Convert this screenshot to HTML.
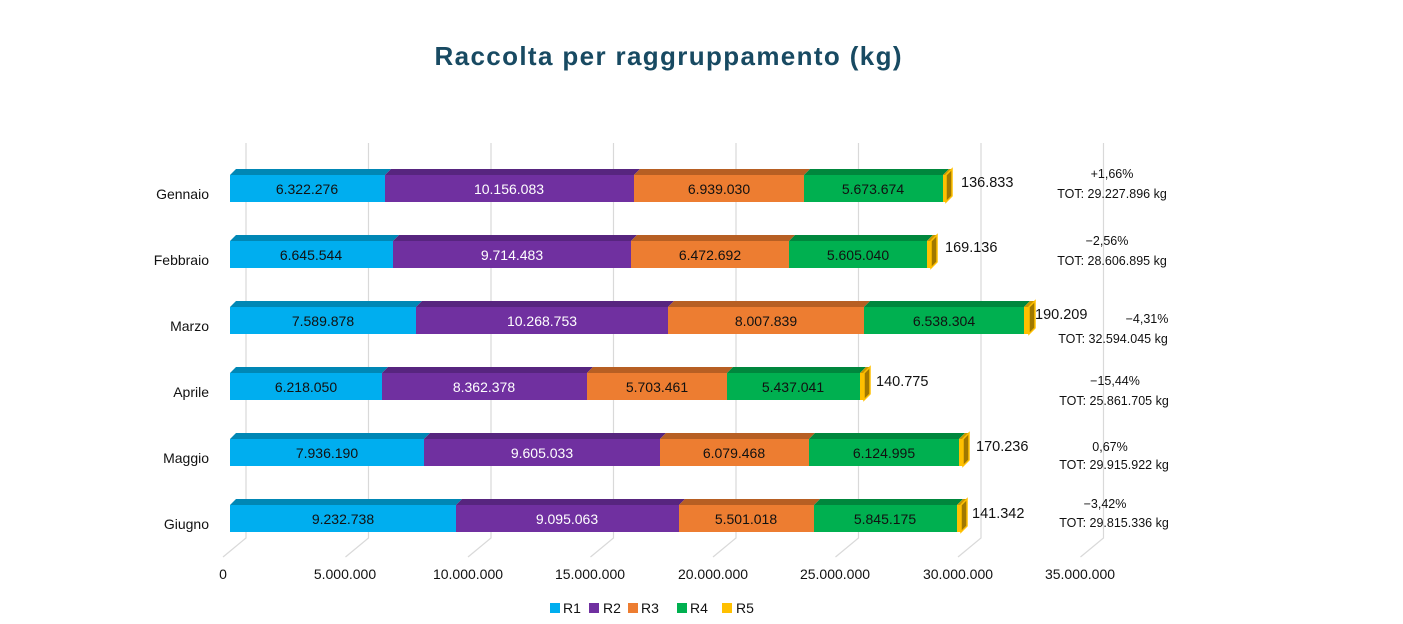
<!DOCTYPE html>
<html><head><meta charset="utf-8"><style>
body{margin:0;background:#fff}
svg{display:block;font-family:"Liberation Sans",sans-serif}
.t{font-size:14px;fill:#111;text-anchor:middle}
.w{fill:#fff}
.c{font-size:14px;fill:#111;text-anchor:end}
.v{font-size:14.5px;fill:#111}
.a{font-size:12.5px;fill:#111;text-anchor:middle}
</style></head><body>
<svg width="1403" height="624" viewBox="0 0 1403 624">
<text x="668" y="65" font-size="26" font-weight="bold" fill="#184a62" text-anchor="middle" textLength="467">Raccolta per raggruppamento (kg)</text>
<g stroke="#d9d9d9" stroke-width="1.2" fill="none">
<path d="M246 143V538L223 557"/><path d="M368.5 143V538L345.5 557"/><path d="M491 143V538L468 557"/><path d="M613.5 143V538L590.5 557"/><path d="M736 143V538L713 557"/><path d="M858.5 143V538L835.5 557"/><path d="M981 143V538L958 557"/><path d="M1103.5 143V538L1080.5 557"/>
</g>
<g font-size="14" fill="#111" text-anchor="middle">
<text x="223" y="579">0</text><text x="345" y="579">5.000.000</text><text x="468" y="579">10.000.000</text><text x="590" y="579">15.000.000</text><text x="713" y="579">20.000.000</text><text x="835" y="579">25.000.000</text><text x="958" y="579">30.000.000</text><text x="1080" y="579">35.000.000</text>
</g>
<defs>
</defs>
<!-- rows -->
<g id="r1" transform="translate(0,175)">
<path d="M230 0L236 -6H391L385 0Z" fill="#0087b5"/><path d="M385 0L391 -6H640L634 0Z" fill="#57257f"/><path d="M634 0L640 -6H810L804 0Z" fill="#b75f23"/><path d="M804 0L810 -6H949L943 0Z" fill="#00873d"/><path d="M943 0L949 -6H952L946 0Z" fill="#c99700"/>
<rect x="230" y="0" width="155" height="27" fill="#00aeef"/><rect x="385" y="0" width="249" height="27" fill="#7030a0"/><rect x="634" y="0" width="170" height="27" fill="#ed7d31"/><rect x="804" y="0" width="139" height="27" fill="#00b050"/><rect x="943" y="0" width="3" height="27" fill="#ffc000"/>
<path d="M946 0L952 -6V21L946 27Z" fill="#a07800"/><path d="M946 0L952 -6V21L946 27Z" fill="none" stroke="#ffc000" stroke-width="1.5"/>
<text class="t" x="307" y="19">6.322.276</text><text class="t w" x="509" y="19">10.156.083</text><text class="t" x="719" y="19">6.939.030</text><text class="t" x="873" y="19">5.673.674</text>
<text class="v" x="961" y="12">136.833</text>
<text class="c" x="209" y="24">Gennaio</text>
<text class="a" x="1112" y="3">+1,66%</text><text class="a" x="1112" y="23">TOT: 29.227.896 kg</text>
</g>
<g transform="translate(0,241)">
<path d="M230 0L236 -6H399L393 0Z" fill="#0087b5"/><path d="M393 0L399 -6H637L631 0Z" fill="#57257f"/><path d="M631 0L637 -6H795L789 0Z" fill="#b75f23"/><path d="M789 0L795 -6H933L927 0Z" fill="#00873d"/><path d="M927 0L933 -6H937L931 0Z" fill="#c99700"/>
<rect x="230" y="0" width="163" height="27" fill="#00aeef"/><rect x="393" y="0" width="238" height="27" fill="#7030a0"/><rect x="631" y="0" width="158" height="27" fill="#ed7d31"/><rect x="789" y="0" width="138" height="27" fill="#00b050"/><rect x="927" y="0" width="4" height="27" fill="#ffc000"/>
<path d="M931 0L937 -6V21L931 27Z" fill="#a07800" stroke="#ffc000" stroke-width="1.5"/>
<text class="t" x="311" y="19">6.645.544</text><text class="t w" x="512" y="19">9.714.483</text><text class="t" x="710" y="19">6.472.692</text><text class="t" x="858" y="19">5.605.040</text>
<text class="v" x="945" y="11">169.136</text>
<text class="c" x="209" y="24">Febbraio</text>
<text class="a" x="1107" y="4">−2,56%</text><text class="a" x="1112" y="24">TOT: 28.606.895 kg</text>
</g>
<g transform="translate(0,307)">
<path d="M230 0L236 -6H422L416 0Z" fill="#0087b5"/><path d="M416 0L422 -6H674L668 0Z" fill="#57257f"/><path d="M668 0L674 -6H870L864 0Z" fill="#b75f23"/><path d="M864 0L870 -6H1030L1024 0Z" fill="#00873d"/><path d="M1024 0L1030 -6H1035L1029 0Z" fill="#c99700"/>
<rect x="230" y="0" width="186" height="27" fill="#00aeef"/><rect x="416" y="0" width="252" height="27" fill="#7030a0"/><rect x="668" y="0" width="196" height="27" fill="#ed7d31"/><rect x="864" y="0" width="160" height="27" fill="#00b050"/><rect x="1024" y="0" width="5" height="27" fill="#ffc000"/>
<path d="M1029 0L1035 -6V21L1029 27Z" fill="#a07800" stroke="#ffc000" stroke-width="1.5"/>
<text class="t" x="323" y="19">7.589.878</text><text class="t w" x="542" y="19">10.268.753</text><text class="t" x="766" y="19">8.007.839</text><text class="t" x="944" y="19">6.538.304</text>
<text class="v" x="1035" y="12">190.209</text>
<text class="c" x="209" y="24">Marzo</text>
<text class="a" x="1147" y="16">−4,31%</text><text class="a" x="1113" y="36">TOT: 32.594.045 kg</text>
</g>
<g transform="translate(0,373)">
<path d="M230 0L236 -6H388L382 0Z" fill="#0087b5"/><path d="M382 0L388 -6H593L587 0Z" fill="#57257f"/><path d="M587 0L593 -6H733L727 0Z" fill="#b75f23"/><path d="M727 0L733 -6H866L860 0Z" fill="#00873d"/><path d="M860 0L866 -6H870L864 0Z" fill="#c99700"/>
<rect x="230" y="0" width="152" height="27" fill="#00aeef"/><rect x="382" y="0" width="205" height="27" fill="#7030a0"/><rect x="587" y="0" width="140" height="27" fill="#ed7d31"/><rect x="727" y="0" width="133" height="27" fill="#00b050"/><rect x="860" y="0" width="4" height="27" fill="#ffc000"/>
<path d="M864 0L870 -6V21L864 27Z" fill="#a07800" stroke="#ffc000" stroke-width="1.5"/>
<text class="t" x="306" y="19">6.218.050</text><text class="t w" x="484" y="19">8.362.378</text><text class="t" x="657" y="19">5.703.461</text><text class="t" x="793" y="19">5.437.041</text>
<text class="v" x="876" y="13">140.775</text>
<text class="c" x="209" y="24">Aprile</text>
<text class="a" x="1115" y="12">−15,44%</text><text class="a" x="1114" y="32">TOT: 25.861.705 kg</text>
</g>
<g transform="translate(0,439)">
<path d="M230 0L236 -6H430L424 0Z" fill="#0087b5"/><path d="M424 0L430 -6H666L660 0Z" fill="#57257f"/><path d="M660 0L666 -6H815L809 0Z" fill="#b75f23"/><path d="M809 0L815 -6H965L959 0Z" fill="#00873d"/><path d="M959 0L965 -6H969L963 0Z" fill="#c99700"/>
<rect x="230" y="0" width="194" height="27" fill="#00aeef"/><rect x="424" y="0" width="236" height="27" fill="#7030a0"/><rect x="660" y="0" width="149" height="27" fill="#ed7d31"/><rect x="809" y="0" width="150" height="27" fill="#00b050"/><rect x="959" y="0" width="4" height="27" fill="#ffc000"/>
<path d="M963 0L969 -6V21L963 27Z" fill="#a07800" stroke="#ffc000" stroke-width="1.5"/>
<text class="t" x="327" y="19">7.936.190</text><text class="t w" x="542" y="19">9.605.033</text><text class="t" x="734" y="19">6.079.468</text><text class="t" x="884" y="19">6.124.995</text>
<text class="v" x="976" y="12">170.236</text>
<text class="c" x="209" y="24">Maggio</text>
<text class="a" x="1110" y="12">0,67%</text><text class="a" x="1114" y="30">TOT: 29.915.922 kg</text>
</g>
<g transform="translate(0,505)">
<path d="M230 0L236 -6H462L456 0Z" fill="#0087b5"/><path d="M456 0L462 -6H685L679 0Z" fill="#57257f"/><path d="M679 0L685 -6H820L814 0Z" fill="#b75f23"/><path d="M814 0L820 -6H963L957 0Z" fill="#00873d"/><path d="M957 0L963 -6H967L961 0Z" fill="#c99700"/>
<rect x="230" y="0" width="226" height="27" fill="#00aeef"/><rect x="456" y="0" width="223" height="27" fill="#7030a0"/><rect x="679" y="0" width="135" height="27" fill="#ed7d31"/><rect x="814" y="0" width="143" height="27" fill="#00b050"/><rect x="957" y="0" width="4" height="27" fill="#ffc000"/>
<path d="M961 0L967 -6V21L961 27Z" fill="#a07800" stroke="#ffc000" stroke-width="1.5"/>
<text class="t" x="343" y="19">9.232.738</text><text class="t w" x="567" y="19">9.095.063</text><text class="t" x="746" y="19">5.501.018</text><text class="t" x="885" y="19">5.845.175</text>
<text class="v" x="972" y="13">141.342</text>
<text class="c" x="209" y="24">Giugno</text>
<text class="a" x="1105" y="3">−3,42%</text><text class="a" x="1114" y="22">TOT: 29.815.336 kg</text>
</g>
<g font-size="14" fill="#111">
<rect x="550" y="603" width="10" height="10" fill="#00aeef"/><text x="563" y="613">R1</text>
<rect x="589" y="603" width="10" height="10" fill="#7030a0"/><text x="603" y="613">R2</text>
<rect x="628" y="603" width="10" height="10" fill="#ed7d31"/><text x="641" y="613">R3</text>
<rect x="677" y="603" width="10" height="10" fill="#00b050"/><text x="690" y="613">R4</text>
<rect x="722" y="603" width="10" height="10" fill="#ffc000"/><text x="736" y="613">R5</text>
</g>
</svg>
</body></html>
